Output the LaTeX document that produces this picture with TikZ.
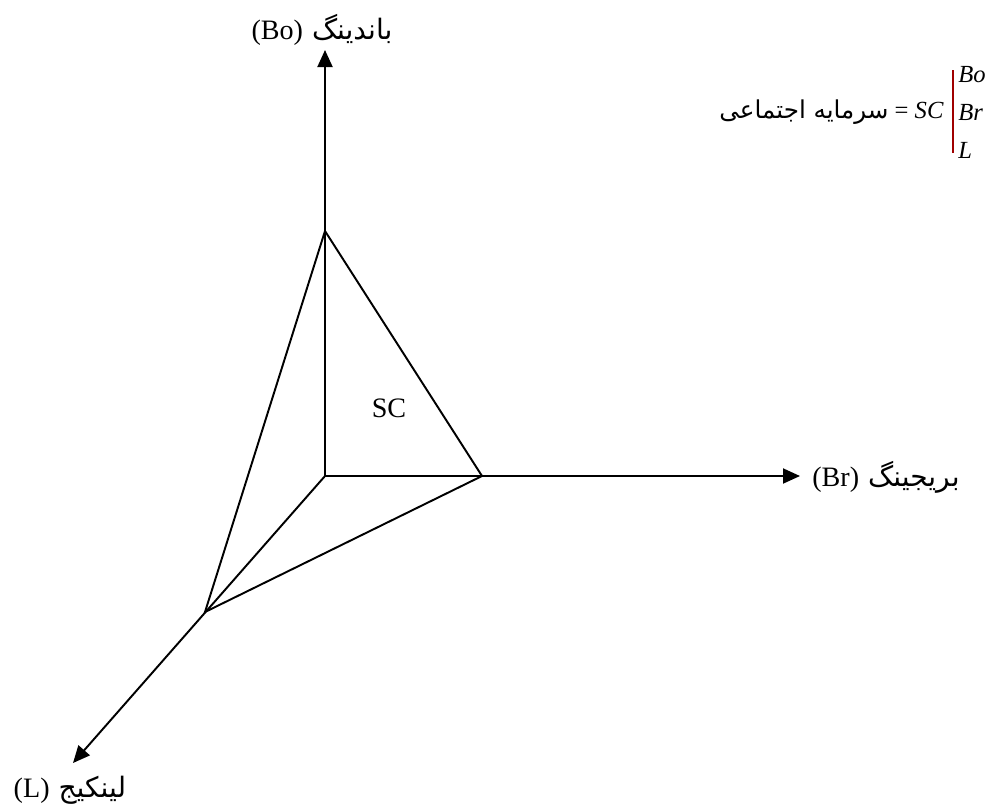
\documentclass[tikz,border=0pt]{standalone}
\usepackage{fontspec}
\setmainfont{Liberation Serif}
\newfontfamily\arabicfont[Script=Arabic]{DejaVu Sans}
\TeXXeTstate=1
\usetikzlibrary{arrows.meta}
\definecolor{barred}{RGB}{160,0,0}
\begin{document}
\begin{tikzpicture}[x=0.02cm,y=-0.02cm,font=\fontsize{16}{19}\selectfont,
  axis/.style={line width=1.1pt,-{Triangle[length=0.34cm,width=0.3cm]}},
  edge/.style={line width=1.1pt,line join=miter},
  lab/.style={inner sep=0pt},
  frm/.style={inner sep=0pt,font=\fontsize{14}{16}\selectfont}]
  \useasboundingbox (0,0) rectangle (997,809);
  \coordinate (o) at (325,476);
  \coordinate (bo) at (325,231);
  \coordinate (br) at (482,476);
  \coordinate (l) at (205,612);
  \coordinate (botip) at (325,50);
  \coordinate (brtip) at (800,476);
  \coordinate (ltip) at (73,763);
  \foreach \t in {botip,brtip,ltip}{\draw[axis] (o) -- (\t);}
  \draw[edge] (bo) -- (br) -- (l) -- cycle;

  \node[lab] (bolab) at (322,30) {\arabicfont\beginR باندینگ \beginL\rmfamily(Bo)\endL\endR};
  \node[lab,anchor=west] (brlab) at (812,477) {\arabicfont\beginR بریجینگ \beginL\rmfamily(Br)\endL\endR};
  \node[lab] (llab) at (70,790) {\arabicfont\beginR لینکیج \beginL\rmfamily(L)\endL\endR};
  \node[lab] (sc) at (389,408) {SC};

  \node[frm,anchor=east] (soc) at (944,112) {{\arabicfont\beginR سرمایه اجتماعی\endR} = \textit{SC}};
  \coordinate (bartop) at (953,70);
  \coordinate (barbot) at (953,153);
  \draw[barred,line width=1.2pt] (bartop) -- (barbot);
  \foreach \n/\y in {Bo/75,Br/112,L/150}{\node[frm,anchor=west] (f\n) at (958,\y) {\textit{\n}};}
\end{tikzpicture}
\end{document}
